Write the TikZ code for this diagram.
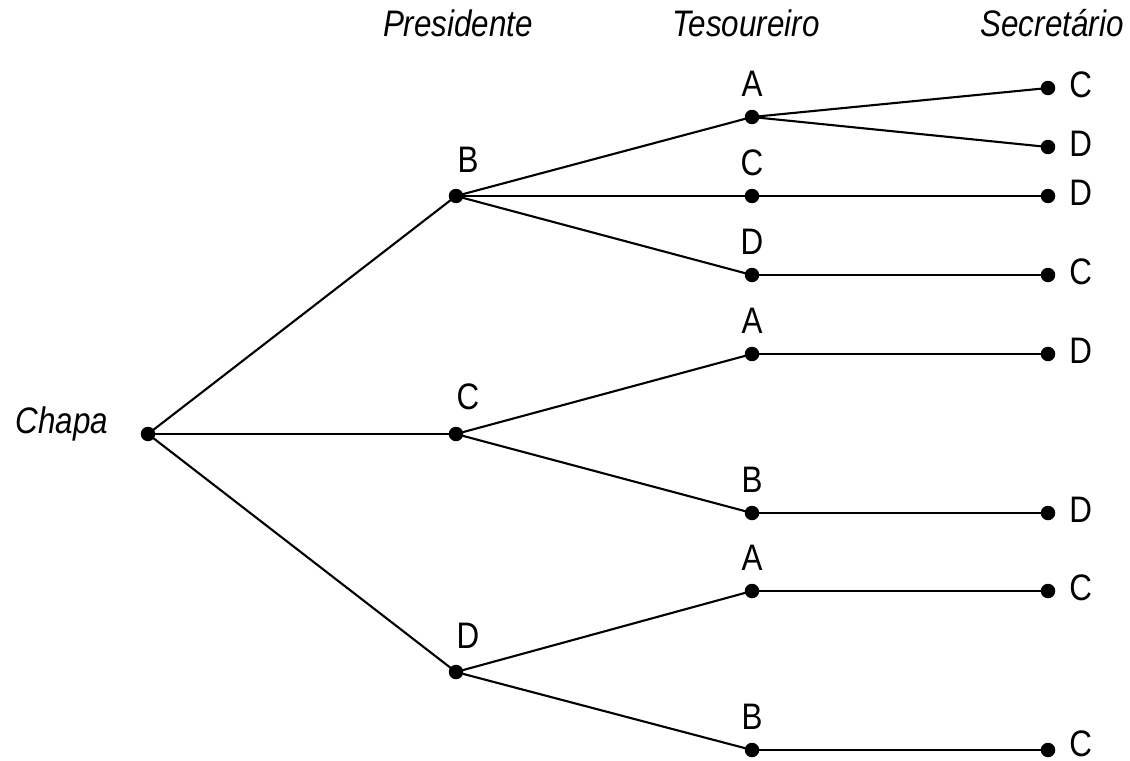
\documentclass[tikz,border=0pt]{standalone}
\usepackage{fontspec}
\setmainfont{Liberation Sans}[FakeStretch=0.85]
\tikzset{
  dot/.style={circle,fill=black,inner sep=0pt,minimum size=0.29cm},
  lab/.style={inner sep=0pt,font=\fontsize{21}{25}\selectfont},
  plab/.style={lab,label distance=0.32cm,xshift=0.24cm},
  tlab/.style={lab,label distance=0.25cm},
  slab/.style={lab,label distance=0.27cm,yshift=0.06cm},
  head/.style={inner sep=0pt,anchor=base,font=\fontsize{21}{25}\selectfont\itshape},
  branch/.style={line width=1.2pt}
}
\begin{document}
\begin{tikzpicture}[x=0.02cm,y=-0.02cm]
        \useasboundingbox (0,0) rectangle (1130,761);
        % column titles
        \node[head] (tchapa) at (62,433) {Chapa};
        \node[head] (tpres) at (458,36) {Presidente};
        \node[head] (ttes) at (746,36) {Tesoureiro};
        \node[head] (tsec) at (1052,36) {Secretário};
        % root
        \node[dot] (chapa) at (148,434) {};
        % presidente
        \node[dot,label={[plab]above:B}] (pB) at (456,196) {};
        \node[dot,label={[plab]above:C}] (pC) at (456,434) {};
        \node[dot,label={[plab]above:D}] (pD) at (456,672) {};
        % tesoureiro
        \node[dot,label={[tlab]above:A}] (tBA) at (752,117) {};
        \node[dot,label={[tlab]above:C}] (tBC) at (752,196) {};
        \node[dot,label={[tlab]above:D}] (tBD) at (752,275) {};
        \node[dot,label={[tlab]above:A}] (tCA) at (752,354) {};
        \node[dot,label={[tlab]above:B}] (tCB) at (752,513) {};
        \node[dot,label={[tlab]above:A}] (tDA) at (752,591) {};
        \node[dot,label={[tlab]above:B}] (tDB) at (752,750) {};
        % secretario
        \node[dot,label={[slab]right:C}] (sBAC) at (1048,88) {};
        \node[dot,label={[slab]right:D}] (sBAD) at (1048,147) {};
        \node[dot,label={[slab]right:D}] (sBCD) at (1048,196) {};
        \node[dot,label={[slab]right:C}] (sBDC) at (1048,275) {};
        \node[dot,label={[slab]right:D}] (sCAD) at (1048,354) {};
        \node[dot,label={[slab]right:D}] (sCBD) at (1048,513) {};
        \node[dot,label={[slab]right:C}] (sDAC) at (1048,591) {};
        \node[dot,label={[slab,yshift=0.06cm]right:C}] (sDBC) at (1048,750) {};
        % branches
        \draw[branch] (chapa.center) -- (pB.center);
        \draw[branch] (chapa.center) -- (pC.center);
        \draw[branch] (chapa.center) -- (pD.center);
        \draw[branch] (pB.center) -- (tBA.center);
        \draw[branch] (pB.center) -- (tBC.center);
        \draw[branch] (pB.center) -- (tBD.center);
        \draw[branch] (pC.center) -- (tCA.center);
        \draw[branch] (pC.center) -- (tCB.center);
        \draw[branch] (pD.center) -- (tDA.center);
        \draw[branch] (pD.center) -- (tDB.center);
        \draw[branch] (tBA.center) -- (sBAC.center);
        \draw[branch] (tBA.center) -- (sBAD.center);
        \draw[branch] (tBC.center) -- (sBCD.center);
        \draw[branch] (tBD.center) -- (sBDC.center);
        \draw[branch] (tCA.center) -- (sCAD.center);
        \draw[branch] (tCB.center) -- (sCBD.center);
        \draw[branch] (tDA.center) -- (sDAC.center);
        \draw[branch] (tDB.center) -- (sDBC.center);
\end{tikzpicture}
\end{document}
